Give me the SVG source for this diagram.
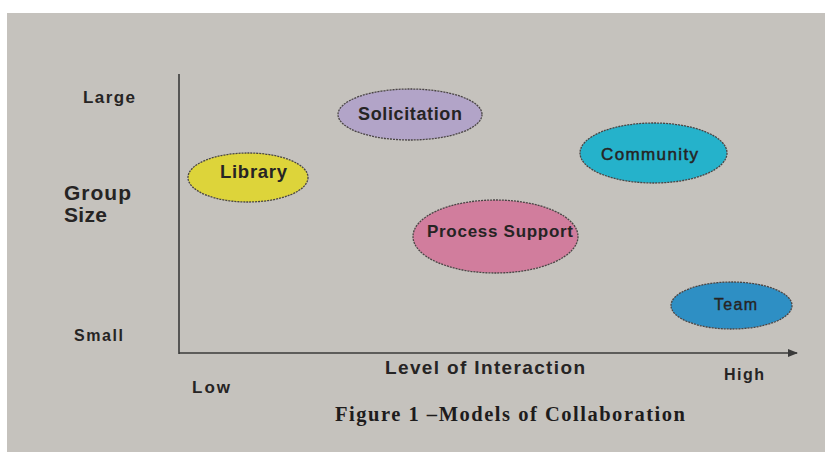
<svg xmlns="http://www.w3.org/2000/svg" width="825" height="452" viewBox="0 0 825 452">
<defs>
<style>
.bg{fill:#c5c2bd}
.axis{stroke:#3a3a3a;stroke-width:1.6;fill:none}
.ell{stroke:#4a4545;stroke-width:1.3;stroke-dasharray:2 1}
.lbl{font-family:"Liberation Sans",Arial,sans-serif;font-weight:bold;fill:#262424}
.cap{font-family:"Liberation Serif","Times New Roman",serif;font-weight:bold;fill:#1e1c1c}
</style>
<marker id="arr" markerWidth="10" markerHeight="8" refX="9" refY="4" orient="auto" markerUnits="userSpaceOnUse">
<path d="M0,0 L10,4 L0,8 Z" fill="#3a3a3a"/>
</marker>
</defs>
<rect x="0" y="0" width="825" height="452" fill="#ffffff"/>
<rect class="bg" x="7" y="13" width="818" height="439"/>

<g id="connectors">
<line class="axis" x1="179" y1="74" x2="179" y2="354"/>
<line class="axis" x1="179" y1="353" x2="797" y2="353" marker-end="url(#arr)"/>
</g>

<g id="axis-labels">
<text class="lbl" x="83" y="103" font-size="17" textLength="52">Large</text>
<text class="lbl" x="64" y="200" font-size="21" textLength="67">Group</text>
<text class="lbl" x="64" y="222" font-size="21" textLength="43">Size</text>
<text class="lbl" x="74" y="341" font-size="16" textLength="49">Small</text>
<text class="lbl" x="192" y="393" font-size="17" textLength="38">Low</text>
<text class="lbl" x="385" y="374" font-size="19" textLength="200">Level of  Interaction</text>
<text class="lbl" x="724" y="380" font-size="16" textLength="40">High</text>
<text class="cap" x="335" y="421" font-size="20.5" textLength="350">Figure 1 –Models of Collaboration</text>
</g>

<g id="node-solicitation">
<ellipse class="ell" cx="410" cy="114.5" rx="72" ry="25.5" fill="#b2a4c8"/>
<text class="lbl" x="358" y="120" font-size="18" textLength="104">Solicitation</text>
</g>

<g id="node-library">
<ellipse class="ell" cx="248" cy="177.5" rx="60" ry="24.5" fill="#ddd43a"/>
<text class="lbl" x="220" y="178" font-size="18.5" textLength="67">Library</text>
</g>

<g id="node-community">
<ellipse class="ell" cx="653.5" cy="153" rx="73.5" ry="30" fill="#25b2cb"/>
<text class="lbl" x="601" y="160" font-size="17" textLength="97" style="font-weight:normal;stroke:#262424;stroke-width:0.5">Community</text>
</g>

<g id="node-process-support">
<ellipse class="ell" cx="495.5" cy="236.5" rx="82.5" ry="36.5" fill="#d17d9d"/>
<text class="lbl" x="427" y="237" font-size="17" textLength="146">Process Support</text>
</g>

<g id="node-team">
<ellipse class="ell" cx="731.5" cy="305.5" rx="60.5" ry="23.5" fill="#2e8fc4"/>
<text class="lbl" x="714" y="310" font-size="16" textLength="43" style="font-weight:normal;stroke:#262424;stroke-width:0.4">Team</text>
</g>
</svg>
